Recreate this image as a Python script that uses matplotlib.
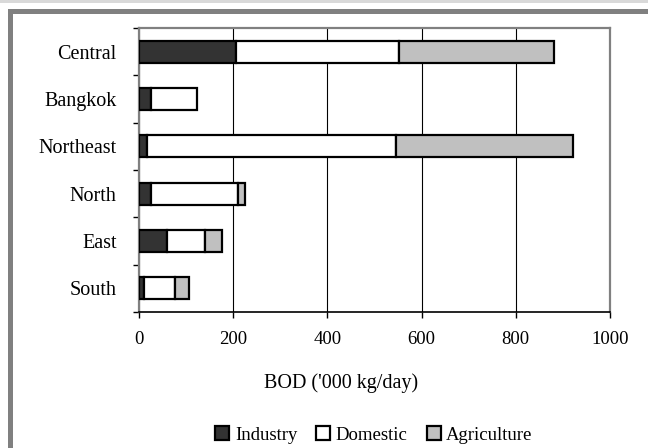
import numpy as np
import matplotlib
matplotlib.use('Agg')
import matplotlib.pyplot as plt
from matplotlib.patches import Rectangle

# values ('000 kg/day)
regions = ['Central', 'Bangkok', 'Northeast', 'North', 'East', 'South']
industry = [205, 25, 18, 25, 59, 11]
domestic = [346, 99, 528, 186, 82, 66]
agriculture = [330, 0, 376, 14, 36, 29]
xticks = [0, 200, 400, 600, 800, 1000]

plt.rcParams['font.family'] = 'Liberation Serif'
fs = 13.5

fig = plt.figure(figsize=(6.48, 4.48), dpi=100)

# outer frame bands
fig.patches.append(Rectangle((0, 1 - 3/448), 1, 3/448, transform=fig.transFigure,
                             facecolor='#d9d9d9', edgecolor='none'))
fig.patches.append(Rectangle((8/648, 1 - 14/448), 1, 5/448, transform=fig.transFigure,
                             facecolor='#808080', edgecolor='none'))
fig.patches.append(Rectangle((8/648, 0), 5/648, 1 - 9/448, transform=fig.transFigure,
                             facecolor='#808080', edgecolor='none'))

ax = fig.add_axes([139/648, 1 - 312/448, 471/648, 284/448])

y = np.arange(len(regions))
ind = np.array(industry)
dom = np.array(domestic)
agr = np.array(agriculture)
h = 0.465
lw = 1.6
ax.barh(y, ind, height=h, color='#333333', edgecolor='black', linewidth=lw, label='Industry', zorder=3)
ax.barh(y, dom, left=ind, height=h, color='white', edgecolor='black', linewidth=lw, label='Domestic', zorder=3)
mask = agr > 0
ax.barh(y[mask], agr[mask], left=(ind + dom)[mask], height=h, color='#c0c0c0',
        edgecolor='black', linewidth=lw, label='Agriculture', zorder=3)

ax.set_xlim(0, 1000)
ax.set_ylim(len(regions) - 0.5, -0.5)
ax.set_xticks(xticks)
ax.set_xticklabels([str(t) for t in xticks], fontsize=fs)
ax.tick_params(axis='x', direction='out', length=4, width=1, pad=10, color='black')

# boundary ticks on the category axis, labels at centres
ax.set_yticks(np.arange(len(regions) + 1) - 0.5)
ax.set_yticklabels([])
ax.set_yticks(y, minor=True)
ax.set_yticklabels(regions, minor=True, fontsize=14.5)
ax.tick_params(axis='y', which='major', direction='out', length=4, width=1, color='black')
ax.tick_params(axis='y', which='minor', length=0, pad=16)

ax.grid(axis='x', color='black', linewidth=0.8, zorder=0)
for s in ['top', 'right', 'left']:
    ax.spines[s].set_color('#808080')
    ax.spines[s].set_linewidth(1.6)
ax.spines['bottom'].set_color('black')
ax.spines['bottom'].set_linewidth(1.2)

fig.text(341/648, 1 - 383/448, "BOD ('000 kg/day)", fontsize=14.5, ha='center', va='center')

leg = fig.legend(loc='center', bbox_to_anchor=(374/648, 1 - 435/448), ncol=3, frameon=False,
                 fontsize=fs, handlelength=0.75, handleheight=0.75, handletextpad=0.3,
                 columnspacing=1.0)

fig.savefig('out.png', dpi=100)
